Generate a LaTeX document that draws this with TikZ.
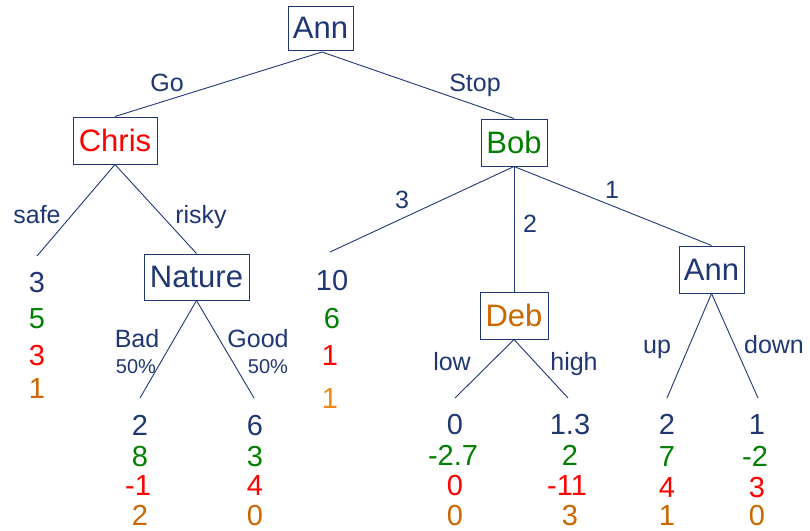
\documentclass[tikz,border=0pt]{standalone}
\usepackage{fontspec}
\setmainfont{Liberation Sans}
\begin{document}
\definecolor{navy}{RGB}{31,55,115}
\definecolor{pgreen}{RGB}{0,128,0}
\definecolor{pred}{RGB}{255,0,0}
\definecolor{porange}{RGB}{204,102,0}
\definecolor{plight}{RGB}{245,135,20}
\begin{tikzpicture}[x=1pt,y=-1pt,
  player/.style={draw=navy, line width=1pt, inner sep=0pt, text=navy,
    font=\fontsize{31}{36}\selectfont},
  edge/.style={draw=navy, line width=0.9pt},
  move/.style={anchor=base, inner sep=0pt, text=navy, font=\fontsize{25}{30}\selectfont},
  prob/.style={anchor=base, inner sep=0pt, text=navy, font=\fontsize{20}{24}\selectfont},
  pay/.style={anchor=base, inner sep=0pt, font=\fontsize{29}{34}\selectfont}]
\useasboundingbox (0,0) rectangle (810,530);

% decision and chance nodes
\node[player, minimum width=65pt, minimum height=44pt] (ann) at (320.5,28) {Ann};
\node[player, minimum width=84pt, minimum height=47pt, text=pred] (chris) at (115,140.5) {Chris};
\node[player, minimum width=105pt, minimum height=46pt] (nature) at (196.5,277) {Nature};
\node[player, minimum width=66pt, minimum height=47pt, text=pgreen] (bob) at (514,142.5) {Bob};
\node[player, minimum width=68pt, minimum height=47pt, text=porange] (deb) at (514,315.5) {Deb};
\node[player, minimum width=65pt, minimum height=47pt] (ann2) at (711.5,269.5) {Ann};

% branch ends
\coordinate (annfork) at (322,52);
\coordinate (safeend) at (37,256);
\coordinate (badend) at (140,398);
\coordinate (goodend) at (254,398);
\coordinate (threeend) at (330,252);
\coordinate (lowend) at (455,398);
\coordinate (highend) at (568,398);
\coordinate (upend) at (667,398);
\coordinate (downend) at (758,398);

% branches
\draw[edge] (annfork) -- (chris.north);
\draw[edge] (annfork) -- (bob.north);
\draw[edge] (chris.south) -- (safeend);
\draw[edge] (chris.south) -- (nature.north);
\draw[edge] (nature.south) -- (badend);
\draw[edge] (nature.south) -- (goodend);
\draw[edge] (bob.south) -- (threeend);
\draw[edge] (bob.south) -- (deb.north);
\draw[edge] (bob.south) -- (ann2.north);
\draw[edge] (deb.south) -- (lowend);
\draw[edge] (deb.south) -- (highend);
\draw[edge] (ann2.south) -- (upend);
\draw[edge] (ann2.south) -- (downend);

% move labels
\node[move] (lgo) at (167,91) {Go};
\node[move] (lstop) at (475,91) {Stop};
\node[move] (lsafe) at (37,223) {safe};
\node[move] (lrisky) at (201,223) {risky};
\node[move] (lbad) at (137,347) {Bad};
\node[prob] (pbad) at (136,373) {50\%};
\node[move] (lgood) at (258,347) {Good};
\node[prob] (pgood) at (268,373) {50\%};
\node[move] (lthree) at (402,208) {3};
\node[move] (ltwo) at (530,232) {2};
\node[move] (lone) at (612,198) {1};
\node[move] (llow) at (452,370) {low};
\node[move] (lhigh) at (574,370) {high};
\node[move] (lup) at (657,353) {up};
\node[move] (ldown) at (774,353) {down};

% payoffs: Ann, Bob, Chris, Deb
\node[pay, text=navy] (s1) at (37,292) {3};
\node[pay, text=pgreen] (s2) at (37,328) {5};
\node[pay, text=pred] (s3) at (37,365) {3};
\node[pay, text=porange] (s4) at (37,398) {1};

\node[pay, text=navy] (b1) at (140,435) {2};
\node[pay, text=pgreen] (b2) at (140,466) {8};
\node[pay, text=pred] (b3) at (138,495) {-1};
\node[pay, text=porange] (b4) at (140,525) {2};

\node[pay, text=navy] (g1) at (255,435) {6};
\node[pay, text=pgreen] (g2) at (255,466) {3};
\node[pay, text=pred] (g3) at (255,495) {4};
\node[pay, text=porange] (g4) at (255,525) {0};

\node[pay, text=navy] (t1) at (332,290) {10};
\node[pay, text=pgreen] (t2) at (332,328) {6};
\node[pay, text=pred] (t3) at (330,365) {1};
\node[pay, text=plight] (t4) at (330,408) {1};

\node[pay, text=navy] (w1) at (455,434) {0};
\node[pay, text=pgreen] (w2) at (453,465) {-2.7};
\node[pay, text=pred] (w3) at (455,495) {0};
\node[pay, text=porange] (w4) at (455,525) {0};

\node[pay, text=navy] (h1) at (570,434) {1.3};
\node[pay, text=pgreen] (h2) at (570,465) {2};
\node[pay, text=pred] (h3) at (567,495) {-11};
\node[pay, text=porange] (h4) at (570,525) {3};

\node[pay, text=navy] (u1) at (667,434) {2};
\node[pay, text=pgreen] (u2) at (667,466) {7};
\node[pay, text=pred] (u3) at (667,497) {4};
\node[pay, text=porange] (u4) at (667,525) {1};

\node[pay, text=navy] (d1) at (757,434) {1};
\node[pay, text=pgreen] (d2) at (755,466) {-2};
\node[pay, text=pred] (d3) at (757,497) {3};
\node[pay, text=porange] (d4) at (757,525) {0};
\end{tikzpicture}
\end{document}
